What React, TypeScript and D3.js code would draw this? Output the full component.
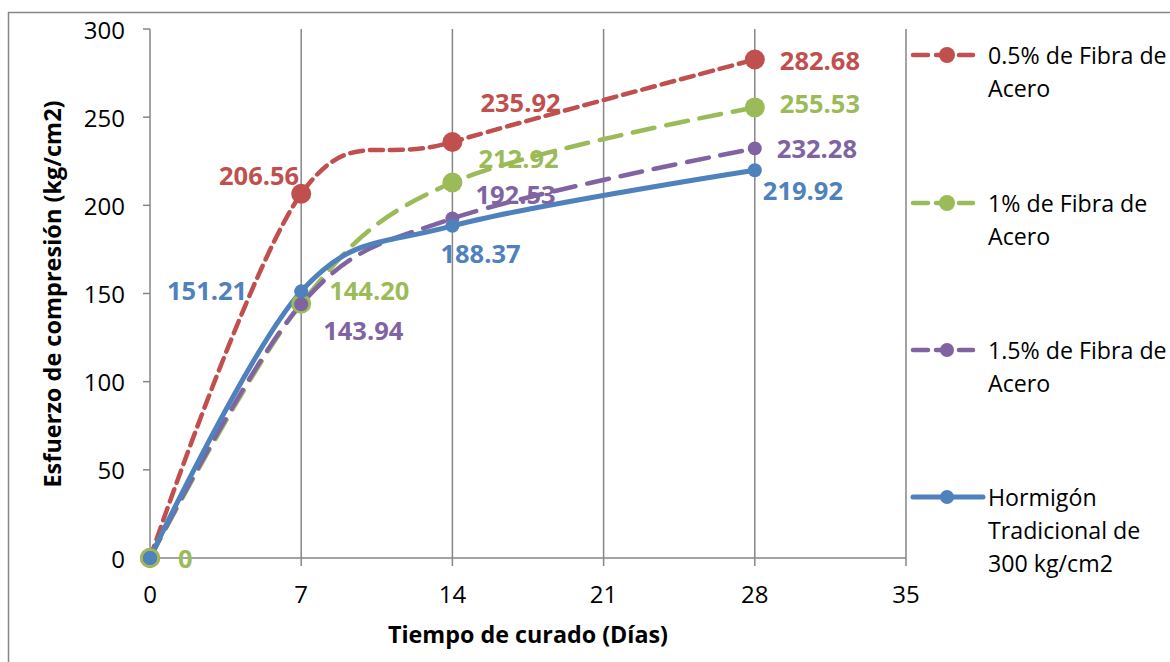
import React from "react";
import * as d3 from "d3";

const days = [0, 7, 14, 28];
const seriesNames = ["0.5% de Fibra de Acero", "1% de Fibra de Acero", "1.5% de Fibra de Acero", "Hormigón Tradicional de 300 kg/cm2"];
const fiber05 = [0, 206.56, 235.92, 282.68];
const fiber1 = [0, 144.2, 212.92, 255.53];
const fiber15 = [0, 143.94, 192.53, 232.28];
const plain = [0, 151.21, 188.37, 219.92];
const xTicks = [0, 7, 14, 21, 28, 35];
const yTicks = [0, 50, 100, 150, 200, 250, 300];
const legendLines = [["0.5% de Fibra de", "Acero"], ["1% de Fibra de", "Acero"], ["1.5% de Fibra de", "Acero"], ["Hormigón", "Tradicional de", "300 kg/cm2"]];

const FONT = "'Open Sans', sans-serif";
const GRID = "#868686";

type Style = { color: string; dash: string; width: number; r: number; lr: number; legendEnd: number };
const styles: Style[] = [
  { color: "#C0504D", dash: "13,7", width: 4.5, r: 10, lr: 8, legendEnd: 973 },
  { color: "#9BBB59", dash: "22,12", width: 4.5, r: 10, lr: 8, legendEnd: 973 },
  { color: "#8064A2", dash: "22,12", width: 4.5, r: 7, lr: 7, legendEnd: 973 },
  { color: "#4F81BD", dash: "", width: 5, r: 7, lr: 7, legendEnd: 983 },
];
// label offsets (dx, dy, anchor) per series per point
const labelPos: [number, number, string][][] = [
  [[0, 0, "none"], [-2, -19, "end"], [28, -40, "start"], [25, 0, "start"]],
  [[28, 0, "start"], [28, -14, "start"], [26, -25, "start"], [25, -4, "start"]],
  [[0, 0, "none"], [22, 26, "start"], [23, -25, "start"], [22, 0, "start"]],
  [[0, 0, "none"], [-54, -1, "end"], [-12, 27, "start"], [8, 20, "start"]],
];

export default function App() {
  const x = d3.scaleLinear().domain([0, 35]).range([150, 906]);
  const y = d3.scaleLinear().domain([0, 300]).range([558, 29]);
  const all = [fiber05, fiber1, fiber15, plain];
  const line = d3
    .line<number>()
    .x((_, i) => x(days[i]))
    .y((d) => y(d))
    .curve(d3.curveCardinal.tension(0));
  const legendY = [55, 203, 350, 497];
  return (
    <svg width={1170} height={662} style={{ position: "absolute", left: 0, top: 0, background: "#fff" }}>
      <rect x={8.5} y={12.5} width={1180} height={670} fill="#fff" stroke={GRID} strokeWidth={1.5} />
      {xTicks.map((t) => (
        <g key={"x" + t}>
          {t > 0 && <line x1={x(t)} x2={x(t)} y1={y(300)} y2={y(0)} stroke={GRID} strokeWidth={1.5} />}
          <line x1={x(t)} x2={x(t)} y1={y(0)} y2={y(0) + 8} stroke={GRID} strokeWidth={1.5} />
          <text x={x(t)} y={593} textAnchor="middle" dominantBaseline="central" fontFamily={FONT} fontSize={24} fill="#000">
            {t}
          </text>
        </g>
      ))}
      {yTicks.map((t) => (
        <g key={"y" + t}>
          <line x1={143} x2={150} y1={y(t)} y2={y(t)} stroke={GRID} strokeWidth={1.5} />
          <text x={125} y={y(t)} textAnchor="end" dominantBaseline="central" fontFamily={FONT} fontSize={24} fill="#000">
            {t}
          </text>
        </g>
      ))}
      <line x1={150} x2={150} y1={y(300)} y2={y(0)} stroke={GRID} strokeWidth={1.5} />
      <line x1={150} x2={906} y1={y(0)} y2={y(0)} stroke={GRID} strokeWidth={1.5} />
      {all.map((s, si) => (
        <path key={"l" + si} d={line(s) || ""} fill="none" stroke={styles[si].color} strokeWidth={styles[si].width} strokeDasharray={styles[si].dash} strokeLinecap="round" />
      ))}
      {all.map((s, si) =>
        s.map((v, i) => <circle key={"m" + si + i} cx={x(days[i])} cy={y(v)} r={styles[si].r} fill={styles[si].color} />)
      )}
      {all.map((s, si) =>
        s.map((v, i) => {
          const [dx, dy, anchor] = labelPos[si][i];
          if (anchor === "none") return null;
          return (
            <text key={"t" + si + i} x={x(days[i]) + dx} y={y(v) + dy} textAnchor={anchor as any} dominantBaseline="central" fontFamily={FONT} fontWeight="bold" fontSize={25.5} fill={styles[si].color}>
              {v === 0 ? "0" : v.toFixed(2)}
            </text>
          );
        })
      )}
      <text x={528} y={634} textAnchor="middle" dominantBaseline="central" fontFamily={FONT} fontWeight="bold" fontSize={23.3} fill="#000">
        Tiempo de curado (Días)
      </text>
      <text transform="translate(52,294) rotate(-90)" textAnchor="middle" dominantBaseline="central" fontFamily={FONT} fontWeight="bold" fontSize={23.5} fill="#000">
        Esfuerzo de compresión (kg/cm2)
      </text>
      {styles.map((st, si) => (
        <g key={"lg" + si}>
          <line x1={913} x2={st.legendEnd} y1={legendY[si]} y2={legendY[si]} stroke={st.color} strokeWidth={st.width} strokeDasharray={si < 3 ? "15,8" : ""} strokeLinecap="round" />
          <circle cx={947} cy={legendY[si]} r={st.lr} fill={st.color} />
          {legendLines[si].map((ln, li) => (
            <text key={li} x={988} y={legendY[si] + li * 33} dominantBaseline="central" fontFamily={FONT} fontSize={23.2} fill="#000">
              {ln}
            </text>
          ))}
        </g>
      ))}
    </svg>
  );
}
